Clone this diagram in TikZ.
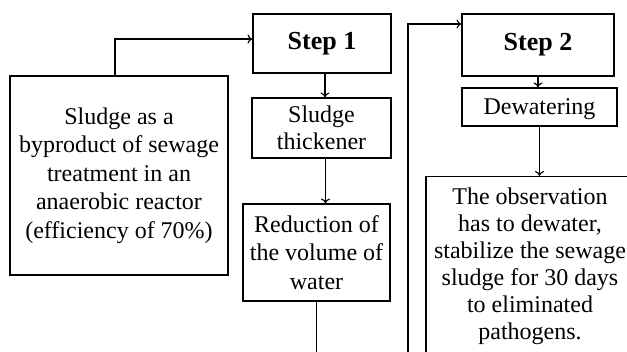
\documentclass[tikz,border=0pt]{standalone}
\usepackage{fontspec}
\setmainfont{Liberation Serif}
\usepackage{tikz}
\usetikzlibrary{arrows.meta, positioning, calc}
\tikzset{
    process/.style={rectangle, draw=black, line width=1.1pt, align=center,
        inner sep=0pt, font=\fontsize{24}{28.5}\selectfont},
    stepbox/.style={process, font=\fontsize{26}{30}\selectfont\bfseries},
    arrow/.style={line width=1.1pt, ->, >={To[length=5pt, width=9pt]}}
}

\begin{document}
\begin{tikzpicture}[x=1pt, y=-1pt]
\useasboundingbox (0,0) rectangle (627,352);
\clip (0,0) rectangle (627,352);
\node[process, minimum width=218pt, minimum height=199pt] (sludge) at (119,175.5) {Sludge as a\\byproduct of sewage\\treatment in an\\anaerobic reactor\\(efficiency of 70\%)};
\node[stepbox, minimum width=138pt, minimum height=59pt] (step1) at (322,43.5) {Step 1};
\node[process, minimum width=139pt, minimum height=60pt, font=\fontsize{24}{27}\selectfont] (thickener) at (321.5,128) {Sludge\\thickener};
\node[process, minimum width=147pt, minimum height=97pt] (reduction) at (316.5,252.5) {Reduction of\\the volume of\\water};
\node[stepbox, minimum width=152pt, minimum height=62pt] (step2) at (538,45) {Step 2};
\node[process, minimum width=155pt, minimum height=38pt, text depth=1pt] (dewatering) at (539.5,107) {Dewatering};
\node[process, anchor=north, minimum width=208pt, inner ysep=11pt, text depth=40pt, font=\fontsize{24}{27}\selectfont] (observation) at (530,176) {The observation\\has to dewater,\\stabilize the sewage\\sludge for 30 days\\to eliminated\\pathogens.};
\coordinate (loop) at (408,380);
\draw[arrow] ([xshift=-4pt]sludge.north) |- ([yshift=4.5pt]step1.west);
\draw[arrow] ([xshift=3pt]step1.south) -- ([xshift=3pt]step1.south |- thickener.north);
\draw[arrow] ([xshift=4pt]thickener.south) -- ([xshift=4pt]thickener.south |- reduction.north);
\draw[arrow] (reduction.south) |- (loop) |- ([yshift=21pt]step2.west);
\draw[arrow] (step2.south) -- (step2.south |- dewatering.north);
\draw[arrow] (dewatering.south) -- (dewatering.south |- observation.north);
\end{tikzpicture}
\end{document}
